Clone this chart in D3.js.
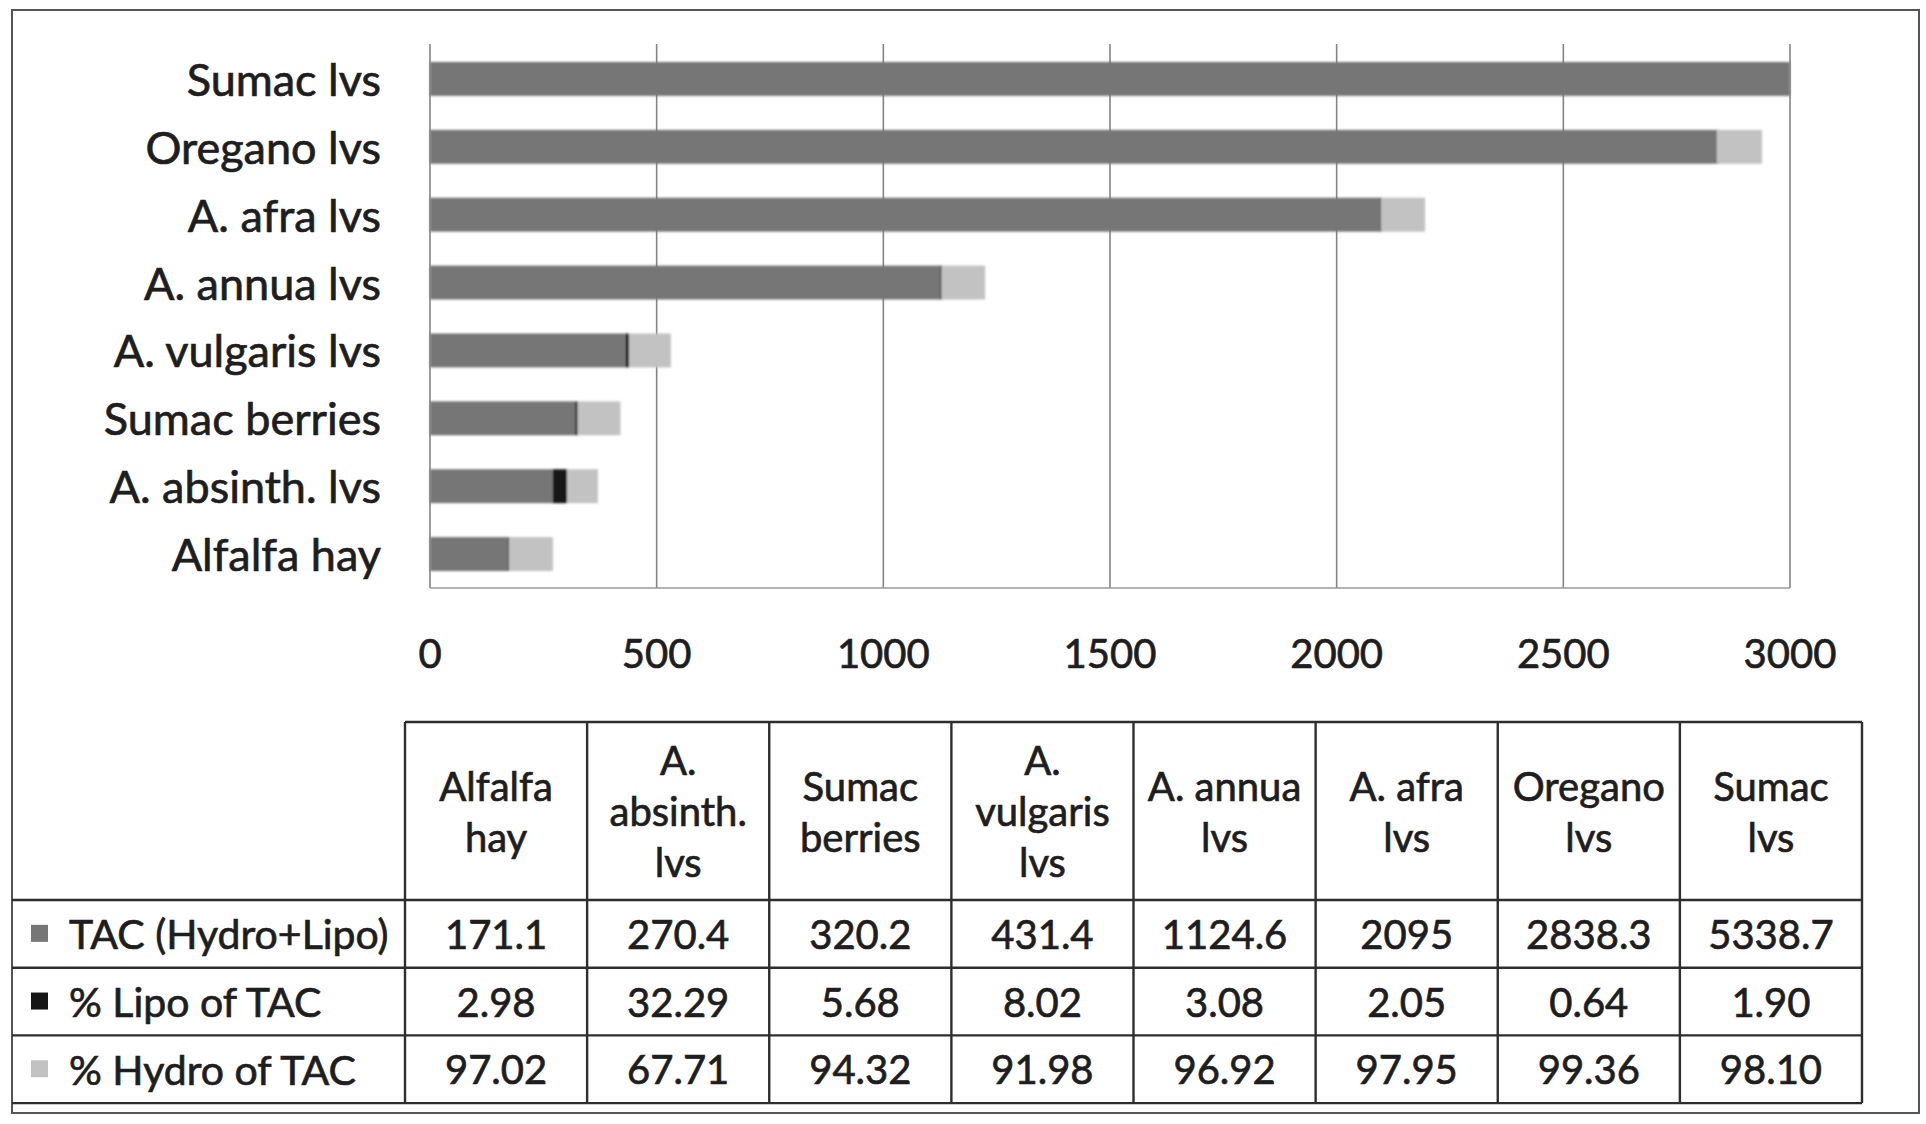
<!DOCTYPE html>
<html>
<head>
<meta charset="utf-8">
<script src="https://cdn.jsdelivr.net/npm/d3@7"></script>
<style>
  html, body { margin: 0; padding: 0; background: #fff; }
  svg { display: block; }
  text { font-family: Lato, "Open Sans", sans-serif; fill: #1e1e1e; stroke: #1e1e1e; stroke-width: 0.7px; }
</style>
</head>
<body>
<svg id="chart" width="1926" height="1124"></svg>
<script>
// ---- data ----
const categories = ["Alfalfa hay", "A. absinth. lvs", "Sumac berries", "A. vulgaris lvs",
                    "A. annua lvs", "A. afra lvs", "Oregano lvs", "Sumac lvs"];
const headerLines = [["Alfalfa", "hay"], ["A.", "absinth.", "lvs"], ["Sumac", "berries"],
                     ["A.", "vulgaris", "lvs"], ["A. annua", "lvs"], ["A. afra", "lvs"],
                     ["Oregano", "lvs"], ["Sumac", "lvs"]];
const tacValues   = [171.1, 270.4, 320.2, 431.4, 1124.6, 2095, 2838.3, 5338.7];
const lipoValues  = [2.98, 32.29, 5.68, 8.02, 3.08, 2.05, 0.64, 1.90];
const hydroValues = [97.02, 67.71, 94.32, 91.98, 96.92, 97.95, 99.36, 98.10];
const seriesNames = ["TAC (Hydro+Lipo)", "% Lipo of TAC", "% Hydro of TAC"];
const xTicks = [0, 500, 1000, 1500, 2000, 2500, 3000];

// ---- setup ----
const svg = d3.select("#chart");
const colors = { tac: "#767676", lipo: "#161616", hydro: "#c2c2c2" };
const seriesColors = [colors.tac, colors.lipo, colors.hydro];
const lineColor = "#2e2e2e";

// soft shadow under bars, like the scanned original
const defs = svg.append("defs");
const f = defs.append("filter").attr("id", "soft").attr("x", "-5%").attr("y", "-30%").attr("width", "110%").attr("height", "160%");
f.append("feGaussianBlur").attr("stdDeviation", 0.8);

// outer frame
svg.append("rect").attr("x", 12).attr("y", 10).attr("width", 1907).attr("height", 1103)
  .attr("fill", "none").attr("stroke", "#555").attr("stroke-width", 2);

const plot = { left: 430, right: 1790, top: 44, bottom: 588 };
const x = d3.scaleLinear().domain([0, 3000]).range([plot.left, plot.right]);
const yOrder = categories.slice().reverse();
const y = d3.scaleBand().domain(yOrder).range([45, 588]).paddingInner(0.5).paddingOuter(0.25);

const rows = categories.map((c, i) => ({ cat: c, tac: tacValues[i], lipo: lipoValues[i], hydro: hydroValues[i] }));
const stack = d3.stack().keys(["tac", "lipo", "hydro"]);
const stacked = stack(rows);

// gridlines
svg.append("g").selectAll("line").data(xTicks).join("line")
  .attr("x1", d => x(d)).attr("x2", d => x(d))
  .attr("y1", plot.top).attr("y2", plot.bottom)
  .attr("stroke", "#858585").attr("stroke-width", 1.6);
// plot bottom border
svg.append("line").attr("x1", plot.left).attr("x2", plot.right)
  .attr("y1", plot.bottom).attr("y2", plot.bottom)
  .attr("stroke", "#9a9a9a").attr("stroke-width", 1.5);

// bars
const clip = v => Math.min(v, 3000);
const barG = svg.append("g").attr("filter", "url(#soft)");
stacked.forEach((layer, li) => {
  barG.append("g").attr("fill", seriesColors[li]).selectAll("rect").data(layer).join("rect")
    .attr("y", d => y(d.data.cat))
    .attr("height", y.bandwidth())
    .attr("x", d => x(clip(d[0])))
    .attr("width", d => {
      const w = x(clip(d[1])) - x(clip(d[0]));
      if (li === 1 && d[0] < 3000) return Math.max(w, 2.5);
      return Math.max(w, 0);
    });
});

// category labels
svg.append("g").selectAll("text").data(yOrder).join("text")
  .attr("x", 381).attr("y", d => y(d) + y.bandwidth() / 2)
  .attr("text-anchor", "end").attr("dominant-baseline", "central")
  .attr("font-size", 45).text(d => d);

// x tick labels
svg.append("g").selectAll("text").data(xTicks).join("text")
  .attr("x", d => x(d)).attr("y", 653)
  .attr("text-anchor", "middle").attr("dominant-baseline", "central")
  .attr("font-size", 40).text(d => d);

// ---- data table ----
const tbl = { left: 405, right: 1862, top: 722, headBottom: 900, rowH: 67.7, frameLeft: 12 };
const col = d3.scaleBand().domain(categories).range([tbl.left, tbl.right]);
const rowY = i => tbl.headBottom + i * tbl.rowH;
const tg = svg.append("g");
function hline(x1, x2, yy) {
  tg.append("line").attr("x1", x1).attr("x2", x2).attr("y1", yy).attr("y2", yy)
    .attr("stroke", lineColor).attr("stroke-width", 2.4);
}
function vline(xx, y1, y2) {
  tg.append("line").attr("x1", xx).attr("x2", xx).attr("y1", y1).attr("y2", y2)
    .attr("stroke", lineColor).attr("stroke-width", 2.4);
}
hline(tbl.left, tbl.right, tbl.top);
for (let i = 0; i <= 3; i++) hline(tbl.frameLeft, tbl.right, rowY(i));
const colEdges = categories.map(c => col(c)).concat([tbl.right]);
colEdges.forEach(e => vline(e, tbl.top, rowY(3)));

// header text
const headG = tg.append("g").selectAll("text").data(categories).join("text")
  .attr("text-anchor", "middle").attr("font-size", 40);
headG.each(function(c, i) {
  const lines = headerLines[i];
  const lh = 51;
  const cy = (tbl.top + tbl.headBottom) / 2;
  const y0 = cy - (lines.length - 1) * lh / 2;
  d3.select(this).selectAll("tspan").data(lines).join("tspan")
    .attr("x", col(c) + col.bandwidth() / 2)
    .attr("y", (d, j) => y0 + j * lh)
    .attr("dominant-baseline", "central")
    .text(d => d);
});

// value rows
const fmtPct = d3.format(".2f");
const valueRows = [
  tacValues.map(v => String(v)),
  lipoValues.map(v => fmtPct(v)),
  hydroValues.map(v => fmtPct(v))
];
valueRows.forEach((vals, ri) => {
  const cy = rowY(ri) + tbl.rowH / 2;
  tg.append("g").selectAll("text").data(vals).join("text")
    .attr("x", (d, i) => col(categories[i]) + col.bandwidth() / 2)
    .attr("y", cy).attr("text-anchor", "middle").attr("dominant-baseline", "central")
    .attr("font-size", 40).text(d => d);
  // legend key + series name
  tg.append("rect").attr("x", 31).attr("y", cy - 9).attr("width", 17).attr("height", 17)
    .attr("fill", seriesColors[ri]);
  tg.append("text").attr("x", 69).attr("y", cy).attr("dominant-baseline", "central")
    .attr("font-size", 41).text(seriesNames[ri]);
});
</script>
</body>
</html>
